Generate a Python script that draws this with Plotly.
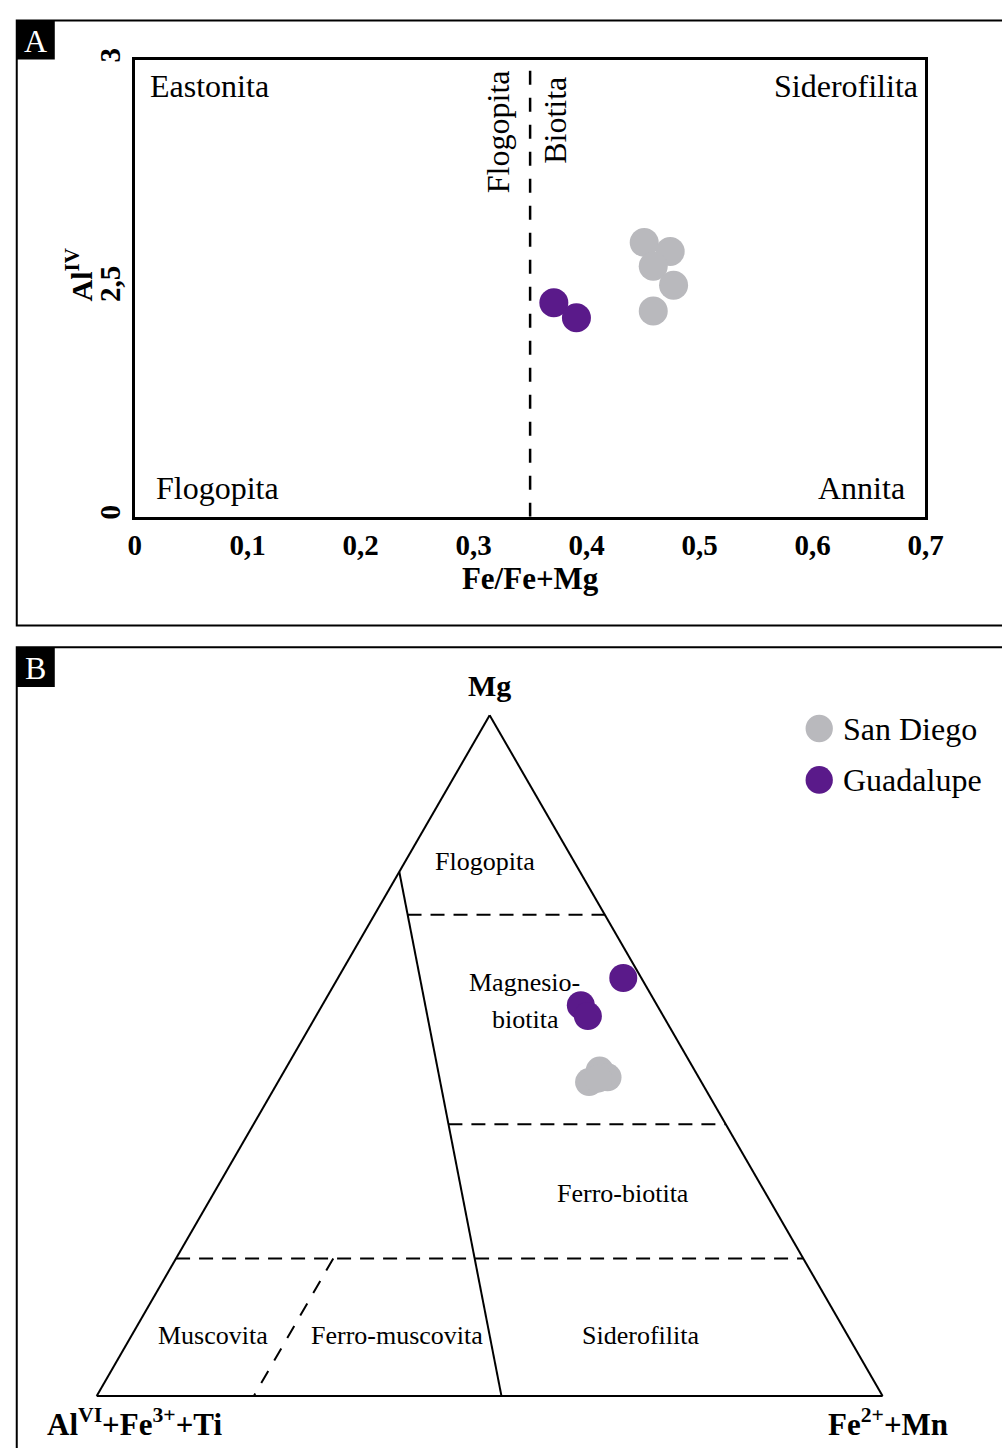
import plotly.graph_objects as go

W, H = 1002, 1448
SERIF = "Liberation Serif"
GRAY = "#B9B9BD"
PURPLE = "#5A1A8A"

# ---------------- Panel A data ----------------
a_x_ticks = [0, 0.1, 0.2, 0.3, 0.4, 0.5, 0.6, 0.7]
a_y_tickvals = [2, 2.5, 3]
a_y_ticktext = ["0", "2,5", "3"]
a_divider_x = 0.35

sd_fe_ratio = [0.451, 0.474, 0.459, 0.477, 0.459]
sd_al_iv = [2.600, 2.580, 2.548, 2.506, 2.450]
gu_fe_ratio = [0.371, 0.391]
gu_al_iv = [2.468, 2.435]

# ---------------- Panel B data (ternary: Mg, AlVI+Fe3+Ti, Fe2+Mn) ----------------
sd_mg = [0.478, 0.468, 0.461, 0.466]
sd_al = [0.121, 0.116, 0.143, 0.129]
sd_fe = [0.401, 0.416, 0.396, 0.405]
gu_mg = [0.614, 0.574, 0.558]
gu_al = [0.023, 0.097, 0.096]
gu_fe = [0.363, 0.329, 0.346]

# field boundaries
solid_mg = [0.77, 0.0]
solid_al = [0.23, 0.485]
solid_fe = [0.0, 0.515]
d1_mg = [0.707, 0.707]
d1_al = [0.251, 0.0]
d1_fe = [0.042, 0.293]
d2_mg = [0.399, 0.399]
d2_al = [0.353, 0.0]
d2_fe = [0.248, 0.601]
d3_mg = [0.202, 0.202]
d3_al = [0.798, 0.0]
d3_fe = [0.0, 0.798]
d4_mg = [0.202, 0.0]
d4_al = [0.598, 0.8]
d4_fe = [0.2, 0.2]


def px(x):
    return x / W


def py(y):
    return 1 - y / H


fig = go.Figure()

# Panel A scatter
fig.add_trace(go.Scatter(x=sd_fe_ratio, y=sd_al_iv, mode="markers", name="San Diego",
                         marker=dict(size=29, color=GRAY, line=dict(width=0)),
                         showlegend=False, xaxis="x", yaxis="y"))
fig.add_trace(go.Scatter(x=gu_fe_ratio, y=gu_al_iv, mode="markers", name="Guadalupe",
                         marker=dict(size=29, color=PURPLE, line=dict(width=0)),
                         showlegend=False, xaxis="x", yaxis="y"))

# Panel B boundaries
def bline(a, b, c, dash=None):
    fig.add_trace(go.Scatterternary(a=a, b=b, c=c, mode="lines",
                                    line=dict(color="black", width=2, dash=dash),
                                    hoverinfo="skip", showlegend=False, subplot="ternary"))


bline(solid_mg, solid_al, solid_fe)
bline(d1_mg, d1_al, d1_fe, "14px,9px")
bline(d2_mg, d2_al, d2_fe, "14px,9px")
bline(d3_mg, d3_al, d3_fe, "14px,9px")
bline(d4_mg, d4_al, d4_fe, "14px,12px")

fig.add_trace(go.Scatterternary(a=sd_mg, b=sd_al, c=sd_fe, mode="markers", name="San Diego",
                                marker=dict(size=28, color=GRAY, line=dict(width=0)),
                                showlegend=False, subplot="ternary"))
fig.add_trace(go.Scatterternary(a=gu_mg, b=gu_al, c=gu_fe, mode="markers", name="Guadalupe",
                                marker=dict(size=28, color=PURPLE, line=dict(width=0)),
                                showlegend=False, subplot="ternary"))

tern_axis = dict(showticklabels=False, ticks="", showgrid=False, linecolor="black",
                 linewidth=2, title=dict(text=""))

shapes = [
    # panel frames
    dict(type="rect", xref="paper", yref="paper", x0=px(10), x1=px(1030), y0=py(620), y1=py(8.5),
         line=dict(color="black", width=2)),
    dict(type="rect", xref="paper", yref="paper", x0=px(10), x1=px(1030), y0=py(1480), y1=py(642),
         line=dict(color="black", width=2)),
    # letter boxes
    dict(type="rect", xref="paper", yref="paper", x0=px(10), x1=px(49), y0=py(48), y1=py(8),
         fillcolor="black", line=dict(width=0)),
    dict(type="rect", xref="paper", yref="paper", x0=px(10), x1=px(49), y0=py(682), y1=py(642),
         fillcolor="black", line=dict(width=0)),
    # divider in panel A
    dict(type="line", xref="x", yref="y", x0=a_divider_x, x1=a_divider_x, y0=2, y1=3,
         line=dict(color="black", width=2.5, dash="14px,13px")),
    # legend symbols
    dict(type="circle", xref="paper", yref="paper", x0=px(819), x1=px(847), y0=py(738), y1=py(710),
         fillcolor=GRAY, line=dict(width=0)),
    dict(type="circle", xref="paper", yref="paper", x0=px(819), x1=px(847), y0=py(790), y1=py(762),
         fillcolor=PURPLE, line=dict(width=0)),
]


def ann(text, x, y, size=26, bold=False, xanchor="center", angle=0, color="black"):
    if bold:
        text = "<b>" + text + "</b>"
    return dict(text=text, x=px(x), y=py(y), xref="paper", yref="paper", showarrow=False,
                xanchor=xanchor, yanchor="middle", textangle=angle,
                font=dict(family=SERIF, size=size, color=color))


annotations = [
    ann("A", 29, 29, size=32, color="white"),
    ann("B", 29, 663, size=32, color="white"),
    # panel A axis title (y)
    ann("Al<sup>IV</sup>", 74, 266, size=30, bold=True, angle=-90),
    # panel A region labels
    ann("Eastonita", 145, 75, size=32, xanchor="left"),
    ann("Siderofilita", 936, 75, size=32, xanchor="right"),
    ann("Flogopita", 151, 481, size=32, xanchor="left"),
    ann("Annita", 923, 481, size=32, xanchor="right"),
    ann("Flogopita", 503, 121, size=32, angle=-90),
    ann("Biotita", 562, 109, size=32, angle=-90),
    # panel B labels
    ann("Mg", 495, 681, size=30, bold=True),
    ann("Al<sup>VI</sup>+Fe<sup>3+</sup>+Ti", 131, 1425, size=31, bold=True),
    ann("Fe<sup>2+</sup>+Mn", 904, 1425, size=31, bold=True),
    ann("Flogopita", 490, 858, size=26),
    ann("Magnesio-", 531, 981, size=26),
    ann("biotita", 532, 1018, size=26),
    ann("Ferro-biotita", 632, 1194, size=26),
    ann("Muscovita", 211, 1337, size=26),
    ann("Ferro-muscovita", 400, 1337, size=26),
    ann("Siderofilita", 650, 1337, size=26),
    # legend text
    ann("San Diego", 855, 724, size=32, xanchor="left"),
    ann("Guadalupe", 855, 776, size=32, xanchor="left"),
]

fig.update_layout(
    width=W, height=H,
    margin=dict(l=0, r=0, t=0, b=0),
    paper_bgcolor="white", plot_bgcolor="white",
    separators=",.",
    showlegend=False,
    font=dict(family=SERIF, color="black"),
    xaxis=dict(domain=[px(131), px(942)], range=[0, 0.7], tickvals=a_x_ticks,
               showgrid=False, zeroline=False, showline=True, mirror=True,
               linecolor="black", linewidth=3, ticks="",
               tickfont=dict(family=SERIF, size=29, color="black", weight="bold"),
               ticklabelstandoff=0,
               title=dict(text="<b>Fe/Fe+Mg</b>", font=dict(family=SERIF, size=31), standoff=8),
               anchor="y"),
    yaxis=dict(domain=[py(510), py(48)], range=[2, 3], tickvals=a_y_tickvals,
               ticktext=a_y_ticktext, tickangle=-90,
               showgrid=False, zeroline=False, showline=True, mirror=True,
               linecolor="black", linewidth=3, ticks="",
               tickfont=dict(family=SERIF, size=29, color="black", weight="bold"),
               ticklabelstandoff=0,
               anchor="x"),
    ternary=dict(domain=dict(x=[px(92), px(898)], y=[py(1403.5), py(705.5)]),
                 sum=1, bgcolor="white",
                 aaxis=tern_axis, baxis=tern_axis, caxis=tern_axis),
    shapes=shapes,
    annotations=annotations,
)

fig.write_html("out.html")
